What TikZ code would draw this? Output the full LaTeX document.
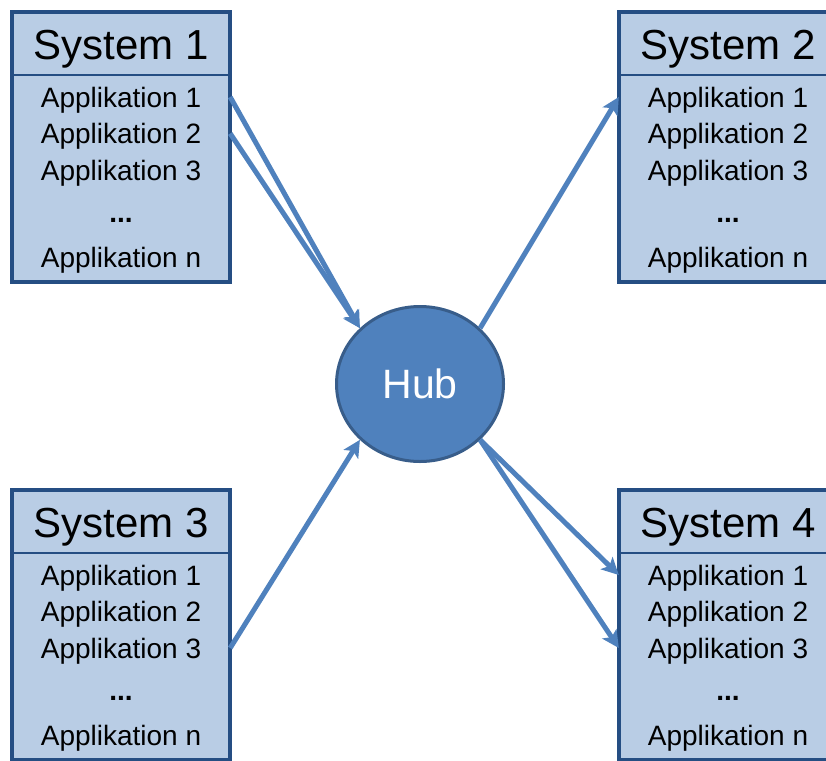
\documentclass[tikz,border=0pt]{standalone}
\usepackage{fontspec}
\setmainfont{Liberation Sans}
\usetikzlibrary{shapes.geometric}
\usetikzlibrary{arrows.meta}

\definecolor{boxfill}{HTML}{B9CDE5}
\definecolor{boxline}{HTML}{254E83}
\definecolor{hubfill}{HTML}{4F81BD}
\definecolor{hubline}{HTML}{385D8A}

\begin{document}
\begin{tikzpicture}[x=1pt, y=-1pt,
    sysbox/.style={fill=boxfill, draw=boxline, line width=4pt},
    divider/.style={draw=boxline, line width=1.5pt},
    title/.style={inner sep=0pt, text height=29pt, text depth=0pt, font=\fontsize{42}{42}\selectfont},
    app/.style={inner sep=0pt, minimum width=218pt, text height=20pt, text depth=0pt, font=\fontsize{28}{28}\selectfont},
    dots/.style={app, font=\fontsize{28}{28}\selectfont\bfseries},
    hub/.style={ellipse, fill=hubfill, draw=hubline, line width=3pt, minimum width=167pt, minimum height=155pt, text=white, font=\fontsize{41}{41}\selectfont},
    arr/.style={draw=hubfill, line width=5pt, -{Stealth[length=17pt, width=17pt, inset=4pt]}}]

    \useasboundingbox (0,0) rectangle (826,760);
    \clip (0,0) rectangle (826,760);

    % System 1
    \draw[sysbox] (12,12) rectangle (230,282);
    \draw[divider] (12,75) -- (230,75);
    \node[title] (sys1) at (121,45) {System 1};
    \node[app] (sys1app1) at (121,97) {Applikation 1};
    \node[app] (sys1app2) at (121,133.5) {Applikation 2};
    \node[app] (sys1app3) at (121,170) {Applikation 3};
    \node[dots] (sys1dots) at (121,212) {...};
    \node[app] (sys1appn) at (121,257) {Applikation n};

    % System 2
    \draw[sysbox] (619,12) rectangle (837,282);
    \draw[divider] (619,75) -- (837,75);
    \node[title] (sys2) at (728,45) {System 2};
    \node[app] (sys2app1) at (728,97) {Applikation 1};
    \node[app] (sys2app2) at (728,133.5) {Applikation 2};
    \node[app] (sys2app3) at (728,170) {Applikation 3};
    \node[dots] (sys2dots) at (728,212) {...};
    \node[app] (sys2appn) at (728,257) {Applikation n};

    % System 3
    \draw[sysbox] (12,490) rectangle (230,760);
    \draw[divider] (12,553) -- (230,553);
    \node[title] (sys3) at (121,523) {System 3};
    \node[app] (sys3app1) at (121,575) {Applikation 1};
    \node[app] (sys3app2) at (121,611.5) {Applikation 2};
    \node[app] (sys3app3) at (121,648) {Applikation 3};
    \node[dots] (sys3dots) at (121,690) {...};
    \node[app] (sys3appn) at (121,735) {Applikation n};

    % System 4
    \draw[sysbox] (619,490) rectangle (837,760);
    \draw[divider] (619,553) -- (837,553);
    \node[title] (sys4) at (728,523) {System 4};
    \node[app] (sys4app1) at (728,575) {Applikation 1};
    \node[app] (sys4app2) at (728,611.5) {Applikation 2};
    \node[app] (sys4app3) at (728,648) {Applikation 3};
    \node[dots] (sys4dots) at (728,690) {...};
    \node[app] (sys4appn) at (728,735) {Applikation n};

    % ================================
    % Hub

    \node[hub] (hub) at (420,384) {Hub};

    % ================================
    % Arrows

    \draw[arr] (sys1app1.east) -- (hub.north west);
    \draw[arr] (sys1app2.east) -- (hub.north west);
    \draw[arr] (hub.north east) -- (sys2app1.west);
    \draw[arr] (sys3app3.east) -- (hub.south west);
    \draw[arr] (hub.south east) -- (sys4app1.west);
    \draw[arr] (hub.south east) -- (sys4app3.west);

\end{tikzpicture}
\end{document}
